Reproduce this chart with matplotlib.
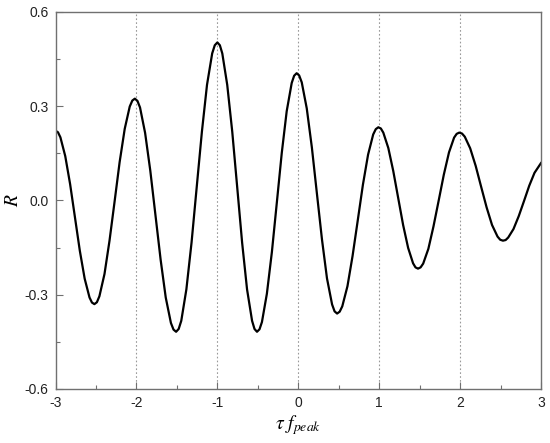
import numpy as np
import matplotlib
matplotlib.use("Agg")
import matplotlib.pyplot as plt
from matplotlib.ticker import MultipleLocator

# curve values (tau*f_peak, R)
tau_f = [-3.00, -2.97, -2.94, -2.88, -2.82, -2.76, -2.70, -2.64, -2.58, -2.55,
         -2.52, -2.489, -2.458, -2.395, -2.333, -2.27, -2.208, -2.145, -2.083, -2.051,
         -2.02, -1.988, -1.956, -1.893, -1.829, -1.765, -1.701, -1.638, -1.574, -1.542,
         -1.51, -1.478, -1.446, -1.383, -1.319, -1.255, -1.191, -1.128, -1.064, -1.032,
         -1.00, -0.969, -0.939, -0.878, -0.816, -0.755, -0.694, -0.633, -0.571, -0.541,
         -0.51, -0.479, -0.449, -0.388, -0.326, -0.265, -0.204, -0.143, -0.081, -0.051,
         -0.02, 0.011, 0.043, 0.105, 0.168, 0.23, 0.293, 0.355, 0.418, 0.449,
         0.48, 0.512, 0.544, 0.608, 0.671, 0.735, 0.799, 0.863, 0.926, 0.958,
         0.99, 1.021, 1.051, 1.113, 1.174, 1.235, 1.296, 1.358, 1.419, 1.449,
         1.48, 1.512, 1.544, 1.608, 1.671, 1.735, 1.799, 1.863, 1.926, 1.958,
         1.99, 2.024, 2.058, 2.125, 2.193, 2.26, 2.328, 2.395, 2.463, 2.496,
         2.53, 2.563, 2.595, 2.66, 2.725, 2.79, 2.855, 2.92, 3.00]
R = [0.222, 0.217, 0.201, 0.141, 0.052, -0.054, -0.160, -0.249, -0.309, -0.325,
     -0.330, -0.324, -0.305, -0.234, -0.128, -0.003, 0.122, 0.228, 0.299, 0.318,
     0.324, 0.317, 0.296, 0.215, 0.095, -0.047, -0.189, -0.309, -0.390, -0.411,
     -0.418, -0.409, -0.383, -0.283, -0.134, 0.043, 0.219, 0.368, 0.468, 0.494,
     0.503, 0.494, 0.468, 0.368, 0.219, 0.043, -0.134, -0.283, -0.383, -0.409,
     -0.418, -0.410, -0.387, -0.297, -0.164, -0.007, 0.151, 0.284, 0.374, 0.397,
     0.405, 0.398, 0.376, 0.293, 0.169, 0.023, -0.124, -0.248, -0.331, -0.353,
     -0.360, -0.354, -0.337, -0.273, -0.177, -0.064, 0.050, 0.146, 0.210, 0.227,
     0.233, 0.229, 0.216, 0.167, 0.094, 0.008, -0.078, -0.151, -0.200, -0.213,
     -0.217, -0.213, -0.201, -0.154, -0.083, -0.001, 0.082, 0.153, 0.200, 0.212,
     0.216, 0.213, 0.203, 0.166, 0.110, 0.044, -0.022, -0.078, -0.115, -0.125,
     -0.128, -0.126, -0.118, -0.091, -0.050, -0.002, 0.047, 0.088, 0.119]

x_ticks = [-3, -2, -1, 0, 1, 2, 3]
y_ticks = [-0.6, -0.3, 0.0, 0.3, 0.6]
y_ticklabels = ['-0.6', '-0.3', '0.0', '0.3', '0.6']
grid_x = [-2, -1, 0, 1, 2]

plt.rcParams['font.family'] = ['Liberation Sans', 'DejaVu Sans']
plt.rcParams['mathtext.fontset'] = 'stix'

fig = plt.figure(figsize=(5.5, 4.43), dpi=100)
ax = fig.add_axes([0.101, 0.122, 0.8826, 0.851])

ax.plot(tau_f, R, color='black', linewidth=1.6, solid_joinstyle='round')

ax.set_xlim(-3, 3)
ax.set_ylim(-0.6, 0.6)
ax.set_xticks(x_ticks)
ax.set_xticklabels([str(t) for t in x_ticks])
ax.set_yticks(y_ticks)
ax.set_yticklabels(y_ticklabels)
ax.xaxis.set_minor_locator(MultipleLocator(0.5))
ax.yaxis.set_minor_locator(MultipleLocator(0.15))

for x in grid_x:
    ax.axvline(x, color='#999999', linestyle=(0, (1.5, 2)), linewidth=0.8, zorder=0)

for s in ax.spines.values():
    s.set_color('#707070')
    s.set_linewidth(1.0)

ax.tick_params(which='both', direction='in', top=False, right=False,
               colors='#707070', labelcolor='#222222', labelsize=10)
ax.tick_params(which='major', length=5, width=0.8, pad=5)
ax.tick_params(which='minor', length=3, width=0.8)

ax.set_xlabel(r'$\tau\ f_{peak}$', fontsize=14, labelpad=2)
ax.set_ylabel(r'$R$', fontsize=14, labelpad=2)

fig.savefig('out.png', dpi=100)
